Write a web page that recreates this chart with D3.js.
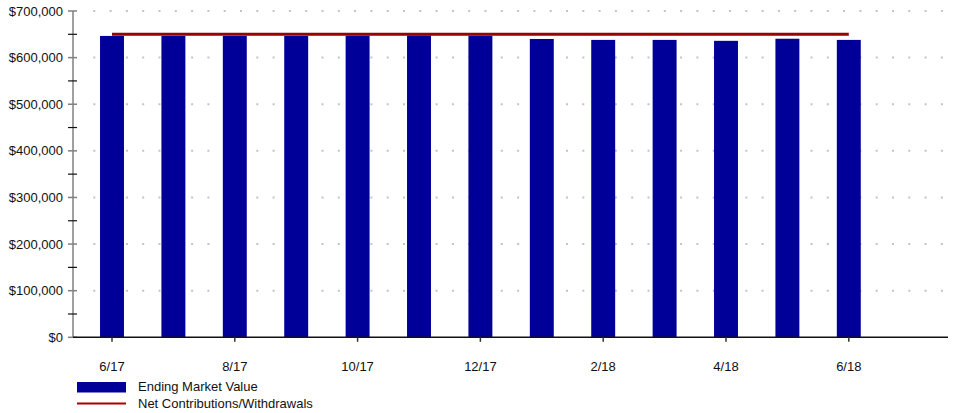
<!DOCTYPE html>
<html>
<head>
<meta charset="utf-8">
<script src="https://cdn.jsdelivr.net/npm/d3@7"></script>
<style>
  body { margin: 0; background: #fff; }
  svg text { font-family: "Liberation Sans", Arial, sans-serif; font-size: 13px; fill: #111; }
</style>
</head>
<body>
<svg id="chart" width="959" height="413"></svg>
<script>
// Month categories
var months = ["6/17", "7/17", "8/17", "9/17", "10/17", "11/17", "12/17",
              "1/18", "2/18", "3/18", "4/18", "5/18", "6/18"];

// Ending market value per month
var marketValue = [646500, 646500, 646500, 646500, 647000, 647500, 647000,
                   640000, 638000, 638000, 636000, 640500, 638000];

// Net contributions / withdrawals (flat line)
var netContrib = [650000, 650000, 650000, 650000, 650000, 650000, 650000,
                  650000, 650000, 650000, 650000, 650000, 650000];

// Axis ticks
var yTicks = [0, 100000, 200000, 300000, 400000, 500000, 600000, 700000];
var yMinorTicks = [50000, 150000, 250000, 350000, 450000, 550000, 650000];
var xLabels = ["6/17", "8/17", "10/17", "12/17", "2/18", "4/18", "6/18"];

var legendItems = ["Ending Market Value", "Net Contributions/Withdrawals"];

var svg = d3.select("svg#chart");

// plot frame (note: "top" is taken by window.top)
var plotLeft = 73, plotRight = 948, plotTop = 11, plotBottom = 337.3;

var x = d3.scaleBand()
  .domain(months)
  .range([81.3, 81.3 + 13 * 61.4])
  .paddingInner(0.61)
  .paddingOuter(0.305);

var y = d3.scaleLinear()
  .domain([0, 700000])
  .range([plotBottom, plotTop]);

var fmt = d3.format("$,");

// dotted grid
svg.append("g")
  .selectAll("line")
  .data(yTicks.slice(1))
  .enter()
  .append("line")
  .attr("x1", 93.3)
  .attr("x2", plotRight)
  .attr("y1", d => y(d))
  .attr("y2", d => y(d))
  .attr("stroke", "#c4c4c4")
  .attr("stroke-width", 2)
  .attr("stroke-dasharray", "2,14.3");

// bars
svg.append("g")
  .selectAll("rect")
  .data(marketValue)
  .enter()
  .append("rect")
  .attr("x", (d, i) => x(months[i]))
  .attr("width", x.bandwidth())
  .attr("y", d => y(d))
  .attr("height", d => plotBottom - y(d))
  .attr("fill", "#000099");

// net contributions line
var line = d3.line()
  .x((d, i) => x(months[i]) + x.bandwidth() / 2)
  .y(d => y(d));

svg.append("path")
  .datum(netContrib)
  .attr("d", line)
  .attr("fill", "none")
  .attr("stroke", "#990000")
  .attr("stroke-width", 3);

// y axis
var yAxis = svg.append("g");
yAxis.append("line")
  .attr("x1", plotLeft).attr("x2", plotLeft)
  .attr("y1", plotTop).attr("y2", plotBottom)
  .attr("stroke", "#808080")
  .attr("stroke-width", 1.5);

yAxis.selectAll("line.major")
  .data(yTicks)
  .enter()
  .append("line")
  .attr("class", "major")
  .attr("x1", 68).attr("x2", 77)
  .attr("y1", d => y(d)).attr("y2", d => y(d))
  .attr("stroke", "#808080")
  .attr("stroke-width", 1.5);

yAxis.selectAll("line.minor")
  .data(yMinorTicks)
  .enter()
  .append("line")
  .attr("class", "minor")
  .attr("x1", 68).attr("x2", 77)
  .attr("y1", d => y(d)).attr("y2", d => y(d))
  .attr("stroke", "#111")
  .attr("stroke-width", 1.2);

yAxis.selectAll("text")
  .data(yTicks)
  .enter()
  .append("text")
  .attr("x", 63)
  .attr("y", d => y(d))
  .attr("dy", "0.35em")
  .attr("text-anchor", "end")
  .text(d => fmt(d));

// x axis
var xAxis = svg.append("g");
xAxis.append("line")
  .attr("x1", plotLeft).attr("x2", plotRight)
  .attr("y1", plotBottom).attr("y2", plotBottom)
  .attr("stroke", "#111")
  .attr("stroke-width", 1.5);

xAxis.selectAll("line.tick")
  .data(xLabels)
  .enter()
  .append("line")
  .attr("class", "tick")
  .attr("x1", d => x(d) + x.bandwidth() / 2)
  .attr("x2", d => x(d) + x.bandwidth() / 2)
  .attr("y1", plotBottom).attr("y2", plotBottom + 4.5)
  .attr("stroke", "#333")
  .attr("stroke-width", 1.5);

xAxis.selectAll("text")
  .data(xLabels)
  .enter()
  .append("text")
  .attr("x", d => x(d) + x.bandwidth() / 2)
  .attr("y", 370.5)
  .attr("text-anchor", "middle")
  .text(d => d);

// legend
var legend = svg.append("g");
legend.append("rect")
  .attr("x", 77).attr("y", 382)
  .attr("width", 49).attr("height", 10.5)
  .attr("fill", "#000099");
legend.append("line")
  .attr("x1", 77).attr("x2", 126)
  .attr("y1", 403.5).attr("y2", 403.5)
  .attr("stroke", "#aa0000")
  .attr("stroke-width", 2);
legend.selectAll("text")
  .data(legendItems)
  .enter()
  .append("text")
  .attr("x", 138)
  .attr("y", (d, i) => 391 + i * 17)
  .text(d => d);
</script>
</body>
</html>
